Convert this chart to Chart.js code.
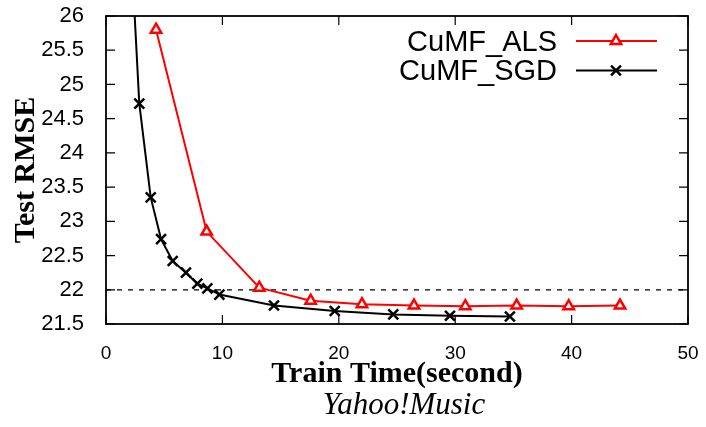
<!DOCTYPE html>
<html>
<head>
<meta charset="utf-8">
<script src="https://cdn.jsdelivr.net/npm/chart.js@4.4.1/dist/chart.umd.min.js"></script>
<style>
  html, body { margin: 0; padding: 0; background: #fff; }
  #wrap { width: 706px; height: 427px; }
</style>
</head>
<body>
<div id="wrap"><canvas id="rmseChart" width="706" height="427"></canvas></div>
<script>
// test RMSE vs. training time on Yahoo!Music
const alsTime = [4.3, 8.65, 13.17, 17.58, 21.99, 26.46, 30.87, 35.28, 39.75, 44.16];
const alsRmse = [25.8, 22.85, 22.03, 21.84, 21.79, 21.77, 21.76, 21.77, 21.76, 21.77];
const sgdTime = [2.0, 2.86, 3.84, 4.73, 5.73, 6.87, 7.85, 8.71, 9.74, 14.43, 19.65, 24.68, 29.55, 34.7];
const sgdRmse = [27.5, 24.72, 23.35, 22.74, 22.42, 22.25, 22.09, 22.02, 21.93, 21.77, 21.69, 21.64, 21.62, 21.61];
const xTicks = [0, 10, 20, 30, 40, 50];
const yTicks = [21.5, 22, 22.5, 23, 23.5, 24, 24.5, 25, 25.5, 26];
const seriesNames = ["CuMF_ALS", "CuMF_SGD"];
const targetRmse = 22;

const toPoints = (xs, ys) => xs.map((x, i) => ({ x: x, y: ys[i] }));

// gnuplot-style frame: full box, inward ticks mirrored on all sides, dashed target line
const framePlugin = {
  id: "frame",
  beforeDatasetsDraw(chart) {
    const { ctx, chartArea: a, scales } = chart;
    ctx.save();
    ctx.strokeStyle = "#000";
    ctx.lineWidth = 1.3;
    ctx.setLineDash([5, 6]);
    const yt = scales.y.getPixelForValue(targetRmse);
    ctx.beginPath();
    ctx.moveTo(a.left, yt);
    ctx.lineTo(a.right, yt);
    ctx.stroke();
    ctx.setLineDash([]);

    ctx.lineWidth = 1.2;
    ctx.beginPath();
    xTicks.forEach(v => {
      const px = scales.x.getPixelForValue(v);
      ctx.moveTo(px, a.bottom); ctx.lineTo(px, a.bottom - 9);
      ctx.moveTo(px, a.top); ctx.lineTo(px, a.top + 9);
    });
    yTicks.forEach(v => {
      const py = scales.y.getPixelForValue(v);
      ctx.moveTo(a.left, py); ctx.lineTo(a.left + 9, py);
      ctx.moveTo(a.right, py); ctx.lineTo(a.right - 9, py);
    });
    ctx.stroke();

    ctx.lineWidth = 1.8;
    ctx.strokeRect(a.left, a.top, a.right - a.left, a.bottom - a.top);
    ctx.restore();
  }
};

// key in the upper right: text first, then line sample with its marker
const keyPlugin = {
  id: "key",
  afterDraw(chart) {
    const { ctx } = chart;
    ctx.save();
    ctx.font = "29px 'Liberation Sans', Arial, sans-serif";
    ctx.textAlign = "right";
    ctx.textBaseline = "alphabetic";
    chart.data.datasets.forEach((ds, i) => {
      const yLine = 41 + i * 29.5;
      ctx.fillStyle = "#000";
      ctx.fillText(ds.label, 557, yLine + 9.5);
      ctx.strokeStyle = ds.borderColor;
      ctx.lineWidth = ds.borderWidth;
      ctx.beginPath();
      ctx.moveTo(576, yLine);
      ctx.lineTo(657, yLine);
      ctx.stroke();
      ctx.fillStyle = ds.pointBackgroundColor;
      ctx.strokeStyle = ds.pointBorderColor;
      ctx.lineWidth = ds.pointBorderWidth;
      Chart.helpers.drawPoint(ctx, { pointStyle: ds.pointStyle, radius: ds.pointRadius, borderWidth: ds.pointBorderWidth, rotation: 0 }, 616, yLine);
    });

    ctx.fillStyle = "#000";
    ctx.textAlign = "center";
    ctx.font = "italic 31px 'Liberation Serif', 'Times New Roman', serif";
    ctx.fillText("Yahoo!Music", 404, 414);
    ctx.restore();
  }
};

new Chart(document.getElementById("rmseChart"), {
  type: "line",
  data: {
    datasets: [
      {
        label: seriesNames[0],
        data: toPoints(alsTime, alsRmse),
        borderColor: "#ff0000",
        borderWidth: 2,
        pointStyle: "triangle",
        pointRadius: 6,
        pointBorderWidth: 2.5,
        pointBorderColor: "#ff0000",
        pointBackgroundColor: "#ffffff",
        tension: 0,
        clip: 0
      },
      {
        label: seriesNames[1],
        data: toPoints(sgdTime, sgdRmse),
        borderColor: "#000000",
        borderWidth: 2,
        pointStyle: "crossRot",
        pointRadius: 7,
        pointBorderWidth: 2.5,
        pointBorderColor: "#000000",
        pointBackgroundColor: "#000000",
        tension: 0,
        clip: 0
      }
    ]
  },
  options: {
    responsive: false,
    animation: false,
    layout: { padding: { top: 16, right: 18, bottom: 0, left: 0 } },
    plugins: { legend: { display: false }, tooltip: { enabled: false } },
    scales: {
      x: {
        type: "linear",
        min: 0,
        max: 50,
        afterBuildTicks: s => { s.ticks = xTicks.map(v => ({ value: v })); },
        afterFit: s => { s.height = 103; s.paddingLeft = 0; s.paddingRight = 0; },
        grid: { display: false },
        border: { display: false },
        ticks: {
          color: "#000",
          padding: 10,
          maxRotation: 0,
          font: { family: "'Liberation Sans', Arial, sans-serif", size: 19 }
        },
        title: {
          display: true,
          text: "Train Time(second)",
          color: "#000",
          padding: { top: 0, bottom: 38 },
          font: { family: "'Liberation Serif', 'Times New Roman', serif", size: 30, weight: "bold", lineHeight: 1 }
        }
      },
      y: {
        min: 21.5,
        max: 26,
        afterBuildTicks: s => { s.ticks = yTicks.map(v => ({ value: v })); },
        afterFit: s => { s.width = 106; s.paddingTop = 0; s.paddingBottom = 0; },
        grid: { display: false },
        border: { display: false },
        ticks: {
          color: "#000",
          padding: 14,
          callback: v => String(v),
          font: { family: "'Liberation Sans', Arial, sans-serif", size: 22 }
        },
        title: {
          display: true,
          text: "Test RMSE",
          color: "#000",
          padding: { top: 11, bottom: 0 },
          font: { family: "'Liberation Serif', 'Times New Roman', serif", size: 30, weight: "bold", lineHeight: 1 }
        }
      }
    }
  },
  plugins: [framePlugin, keyPlugin]
});
</script>
</body>
</html>
